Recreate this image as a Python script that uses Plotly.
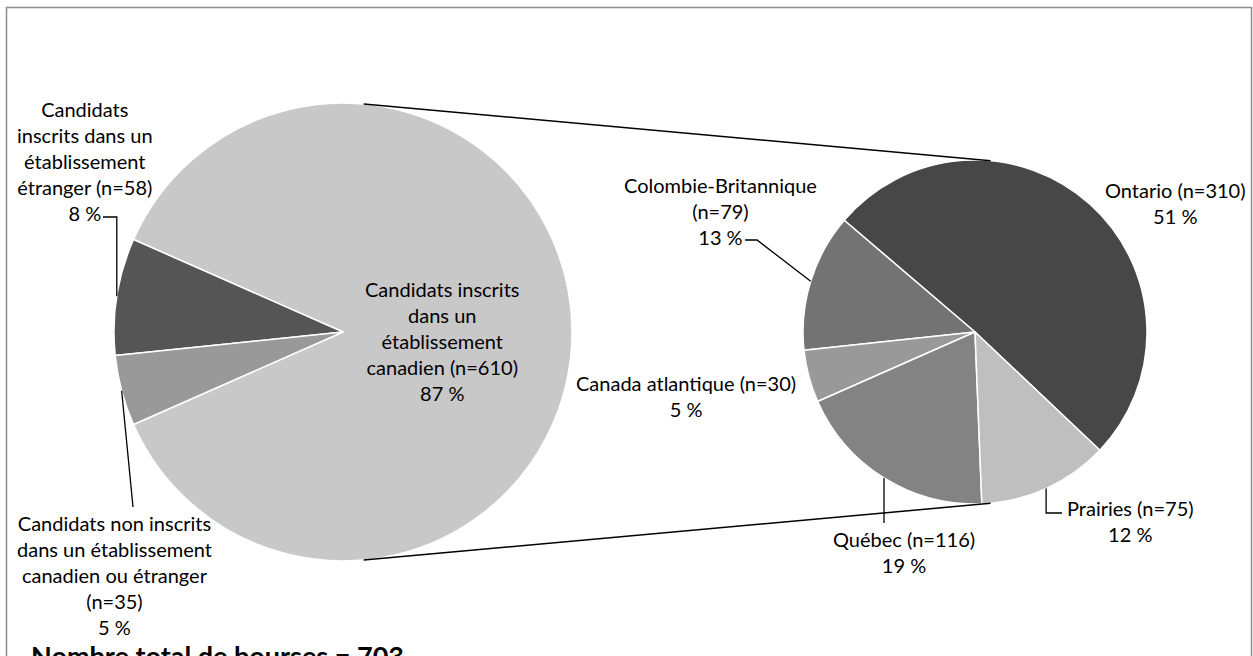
import math
import plotly.graph_objects as go

# ---------------- data ----------------
total_label = "Nombre total de bourses = 703"

main_labels = ["Candidats inscrits<br>dans un<br>établissement<br>canadien ",
               "Candidats<br>inscrits dans un<br>établissement<br>étranger ",
               "Candidats non inscrits<br>dans un établissement<br>canadien ou étranger<br>"]
main_values = [610, 58, 35]
main_colors = ["#C8C8C8", "#555555", "#999999"]

sub_labels = ["Ontario ", "Colombie-Britannique<br>", "Canada atlantique ",
              "Québec ", "Prairies "]
sub_values = [310, 79, 30, 116, 75]
sub_colors = ["#474747", "#737373", "#999999", "#838383", "#BFBFBF"]

# ---------------- layout constants (pixels) ----------------
W, H = 1253, 656
FONT = "Lato, 'Open Sans', sans-serif"
FS = 20

L_C = (343, 332); L_R = 229
R_C = (975, 332); R_R = 172

main_rot = 90 - (main_values[0] / sum(main_values) * 360) / 2
sub_rot = -49.5

# label block centers (px)
main_lab_pos = [(443, 341), (85, 161), (114, 575)]
sub_lab_pos = [(1175, 203), (720, 211), (686, 396), (904, 552), (1130, 521)]


def px(x, y):
    return x / W, 1 - y / H


def dom(c, r):
    x0, y1 = px(c[0] - r, c[1] - r)
    x1, y0 = px(c[0] + r, c[1] + r)
    return dict(x=[x0, x1], y=[y0, y1])


def mid_points(values, rot, c, r):
    T = float(sum(values))
    pts = []
    acc = 0.0
    for k, v in enumerate(values):
        d = v / T * 360
        if k == 0:
            a0, a1 = rot, rot + d
        else:
            a0, a1 = rot - acc - d, rot - acc
            acc += d
        m = math.radians((a0 + a1) / 2)
        pts.append((c[0] + r * math.sin(m), c[1] - r * math.cos(m)))
    return pts


def make_text(labels, values):
    T = sum(values)
    return [f"{lab}(n={v})<br>{round(v / T * 100)} %" for lab, v in zip(labels, values)]


fig = go.Figure()
fig.add_trace(go.Pie(labels=main_labels, values=main_values, sort=False,
                     direction="counterclockwise", rotation=main_rot,
                     marker=dict(colors=main_colors, line=dict(color="white", width=1.5)),
                     textinfo="none", hoverinfo="label+value", domain=dom(L_C, L_R),
                     showlegend=False))
fig.add_trace(go.Pie(labels=sub_labels, values=sub_values, sort=False,
                     direction="counterclockwise", rotation=sub_rot,
                     marker=dict(colors=sub_colors, line=dict(color="white", width=1.5)),
                     textinfo="none", hoverinfo="label+value", domain=dom(R_C, R_R),
                     showlegend=False))

annotations = []
for txt, (x, y) in zip(make_text(main_labels, main_values) + make_text(sub_labels, sub_values),
                       main_lab_pos + sub_lab_pos):
    ax, ay = px(x, y)
    annotations.append(dict(x=ax, y=ay, xref="paper", yref="paper", text=txt,
                            showarrow=False, align="center", xanchor="center",
                            yanchor="middle", font=dict(family=FONT, size=FS, color="#000")))

tx, ty = px(29, 655)
annotations.append(dict(x=tx, y=ty, xref="paper", yref="paper", text="<b>" + total_label + "</b>",
                        showarrow=False, xanchor="left", yanchor="middle",
                        font=dict(family=FONT, size=27, color="#000")))

shapes = []


def path(points, color="#000", width=1.3):
    s = ""
    for i, (x, y) in enumerate(points):
        X, Y = px(x, y)
        s += ("M" if i == 0 else "L") + f"{X:.5f},{Y:.5f} "
    shapes.append(dict(type="path", path=s.strip(), xref="paper", yref="paper",
                       line=dict(color=color, width=width)))


# connectors: outer common tangents
d = R_C[0] - L_C[0]
th = math.asin((L_R - R_R) / d)
for sgn in (1, -1):
    a = math.pi / 2 - th
    p1 = (L_C[0] + L_R * math.cos(a), L_C[1] - sgn * L_R * math.sin(a))
    p2 = (R_C[0] + R_R * math.cos(a), R_C[1] - sgn * R_R * math.sin(a))
    path([p1, p2], width=1.5)

mp = mid_points(main_values, main_rot, L_C, L_R)
sp = mid_points(sub_values, sub_rot, R_C, R_R)

# leader lines
path([(103, 217), (mp[1][0], 217), mp[1]])
path([(133, 507), mp[2]])
path([(745, 240), (757, 240), sp[1]])
path([sp[4], (sp[4][0], 513), (1062, 513)])
path([sp[3], (sp[3][0], 523)])

# frame
fx0, fy0 = px(6.5, 7.5)
fx1, fy1 = px(1251.5, 670)
shapes.append(dict(type="rect", xref="paper", yref="paper", x0=fx0, y0=fy1, x1=fx1, y1=fy0,
                   line=dict(color="#8C8C8C", width=1.5)))

fig.update_layout(width=W, height=H, margin=dict(l=0, r=0, t=0, b=0),
                  paper_bgcolor="white", plot_bgcolor="white",
                  annotations=annotations, shapes=shapes)
fig.write_html("out.html", config={"displayModeBar": False},
               post_script="document.body.style.margin='0';document.body.style.overflow='hidden';")
